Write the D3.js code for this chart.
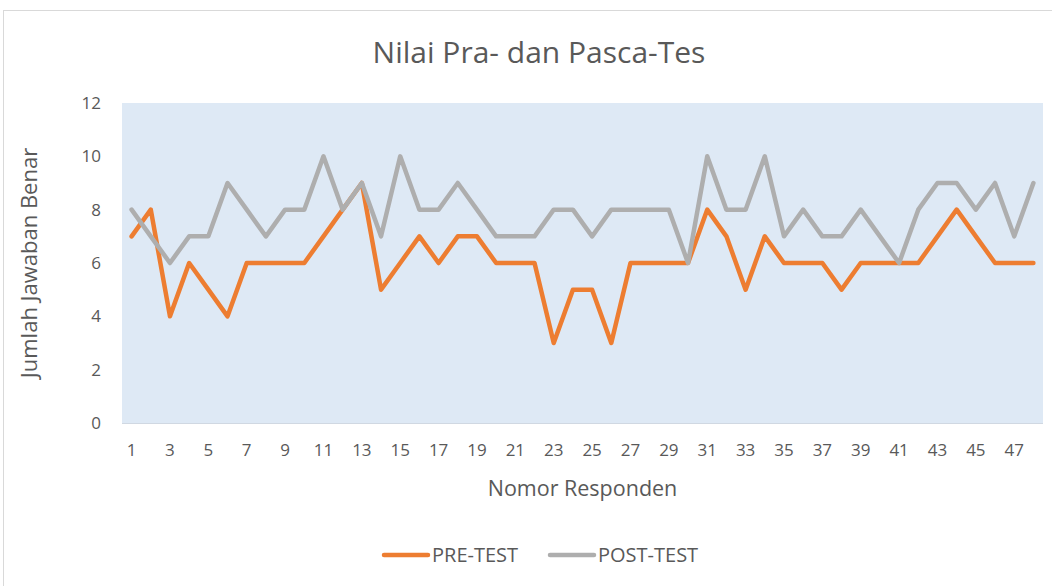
<!DOCTYPE html>
<html>
<head>
<meta charset="utf-8">
<script src="https://cdn.jsdelivr.net/npm/d3@7"></script>
<style>
  body { margin: 0; background: #fff; }
  text { font-family: "Open Sans", Lato, sans-serif; fill: #595959; }
</style>
</head>
<body>
<svg id="chart" width="1052" height="586"></svg>
<script>
const respondents = d3.range(1, 49);
const preTest = [7, 8, 4, 6, 5, 4, 6, 6, 6, 6, 7, 8, 9, 5, 6, 7, 6, 7, 7, 6, 6, 6, 3, 5,
                 5, 3, 6, 6, 6, 6, 8, 7, 5, 7, 6, 6, 6, 5, 6, 6, 6, 6, 7, 8, 7, 6, 6, 6];
const postTest = [8, 7, 6, 7, 7, 9, 8, 7, 8, 8, 10, 8, 9, 7, 10, 8, 8, 9, 8, 7, 7, 7, 8, 8,
                  7, 8, 8, 8, 8, 6, 10, 8, 8, 10, 7, 8, 7, 7, 8, 7, 6, 8, 9, 9, 8, 9, 7, 9];
const yTicks = [0, 2, 4, 6, 8, 10, 12];

const series = [
    { name: "PRE-TEST", values: preTest, color: "#ed7d31" },
    { name: "POST-TEST", values: postTest, color: "#aeaeae" }
];

const plot = { left: 122, right: 1043, top: 103, bottom: 423 };

const svg = d3.select("#chart");

// outer chart frame
svg.append("rect")
    .attr("x", 3.5).attr("y", 10.5)
    .attr("width", 1060).attr("height", 600)
    .attr("fill", "#fff")
    .attr("stroke", "#d9d9d9");

const x = d3.scaleBand()
    .domain(respondents)
    .range([plot.left, plot.right]);

const y = d3.scaleLinear()
    .domain([0, 12])
    .range([plot.bottom, plot.top]);

svg.append("rect")
    .attr("x", plot.left).attr("y", plot.top)
    .attr("width", plot.right - plot.left)
    .attr("height", plot.bottom - plot.top)
    .attr("fill", "#dee9f5");

svg.append("line")
    .attr("x1", plot.left).attr("x2", plot.right)
    .attr("y1", plot.bottom + 0.5).attr("y2", plot.bottom + 0.5)
    .attr("stroke", "#d0d8e2");

// title
svg.append("text")
    .attr("x", 539).attr("y", 63)
    .attr("text-anchor", "middle")
    .style("font-size", "30px")
    .text("Nilai Pra- dan Pasca-Tes");

// y axis
const yAxis = svg.append("g")
    .attr("transform", `translate(${plot.left - 21},0)`)
    .call(d3.axisLeft(y).tickValues(yTicks).tickSize(0).tickPadding(0));
yAxis.select(".domain").remove();
yAxis.selectAll("text").style("font-size", "17px").attr("fill", "#595959");

// x axis
const xAxis = svg.append("g")
    .attr("transform", `translate(0,${plot.bottom + 11})`)
    .call(d3.axisBottom(x).tickValues(respondents.filter(d => d % 2 === 1)).tickSize(0).tickPadding(10));
xAxis.select(".domain").remove();
xAxis.selectAll("text").style("font-size", "17px").attr("fill", "#595959");

// axis titles
svg.append("text")
    .attr("x", (plot.left + plot.right) / 2).attr("y", 496)
    .attr("text-anchor", "middle")
    .style("font-size", "21.5px")
    .text("Nomor Responden");

svg.append("text")
    .attr("transform", `translate(37,${(plot.top + plot.bottom) / 2}) rotate(-90)`)
    .attr("text-anchor", "middle")
    .style("font-size", "22px")
    .text("Jumlah Jawaban Benar");

// lines
const line = d3.line()
    .x((d, i) => x(respondents[i]) + x.bandwidth() / 2)
    .y(d => y(d));

series.forEach(s => {
    svg.append("path")
        .datum(s.values)
        .attr("fill", "none")
        .attr("stroke", s.color)
        .attr("stroke-width", 4.5)
        .attr("stroke-linejoin", "round")
        .attr("stroke-linecap", "round")
        .attr("d", line);
});

// legend
const legendPos = [382, 548];
series.forEach((s, i) => {
    const g = svg.append("g").attr("transform", `translate(${legendPos[i]},555)`);
    g.append("line")
        .attr("x1", 2).attr("x2", 46)
        .attr("stroke", s.color)
        .attr("stroke-width", 4.5)
        .attr("stroke-linecap", "round");
    g.append("text")
        .attr("x", 50).attr("y", 7)
        .style("font-size", "20px")
        .text(s.name);
});
</script>
</body>
</html>
